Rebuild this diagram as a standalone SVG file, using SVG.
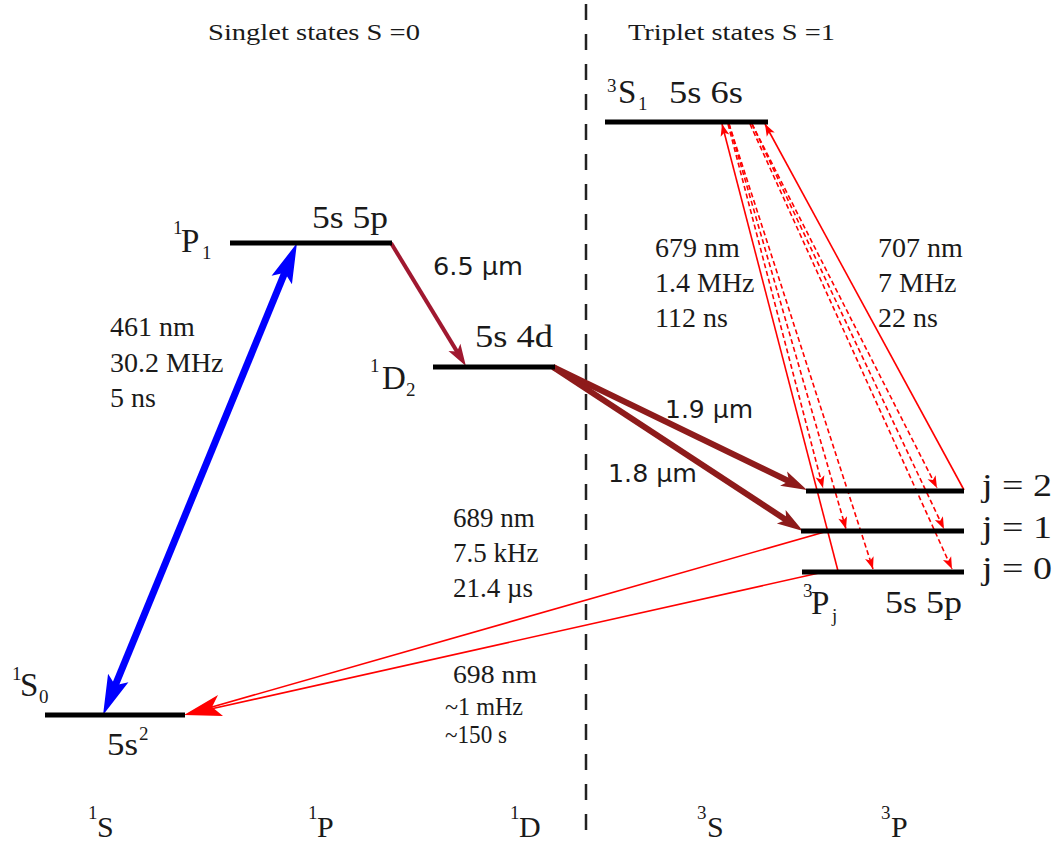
<svg xmlns="http://www.w3.org/2000/svg" width="1061" height="844" viewBox="0 0 1061 844">
<style>
.lvl{stroke:#000;stroke-width:5;fill:none}
.t{font-family:"Liberation Serif","Times New Roman",serif;fill:#1a1a1a}
.s{font-family:"DejaVu Sans",Verdana,sans-serif;fill:#1a1a1a}
.lab{font-size:32px}
.term{font-size:33px}
.sm{font-size:19px}
.tr{font-size:28px}
.red{stroke:#ff0000;stroke-width:1.6;fill:none}
.dash{stroke:#ff0000;stroke-width:1.6;fill:none;stroke-dasharray:5 3}
</style>
<defs>
<marker id="mb" markerUnits="userSpaceOnUse" viewBox="-50 -50 100 100" markerWidth="100" markerHeight="100" refX="0" refY="0" orient="auto-start-reverse" overflow="visible">
<path d="M22,0 L-18,-11 L-10,0 L-18,11 Z" fill="#0000ff"/>
</marker>
<marker id="mm" markerUnits="userSpaceOnUse" viewBox="-50 -50 100 100" markerWidth="100" markerHeight="100" refX="0" refY="0" orient="auto" overflow="visible">
<path d="M14,0 L-8,-7 L-3,0 L-8,7 Z" fill="#a01830"/>
</marker>
<marker id="md" markerUnits="userSpaceOnUse" viewBox="-50 -50 100 100" markerWidth="100" markerHeight="100" refX="0" refY="0" orient="auto" overflow="visible">
<path d="M16,0 L-10,-8 L-4,0 L-10,8 Z" fill="#8e1b1b"/>
</marker>
<marker id="mr" markerUnits="userSpaceOnUse" viewBox="-50 -50 100 100" markerWidth="100" markerHeight="100" refX="0" refY="0" orient="auto" overflow="visible">
<path d="M0,0 L-12,-4.5 L-9,0 L-12,4.5 Z" fill="#ff0000"/>
</marker>
</defs>
<rect width="1061" height="844" fill="#ffffff"/>

<g id="headers">
<text class="t" x="208" y="40" font-size="24" textLength="212" lengthAdjust="spacingAndGlyphs">Singlet states  S =0</text>
<text class="t" x="628" y="40" font-size="24" textLength="207" lengthAdjust="spacingAndGlyphs">Triplet states S =1</text>
<line x1="586" y1="4" x2="586" y2="844" stroke="#222" stroke-width="2.5" stroke-dasharray="16 14"/>
</g>

<g id="bottom-labels" class="t">
<text><tspan x="88" y="819" class="sm">1</tspan><tspan x="97" y="837" font-size="30">S</tspan></text>
<text><tspan x="308" y="819" class="sm">1</tspan><tspan x="317" y="837" font-size="30">P</tspan></text>
<text><tspan x="510" y="819" class="sm">1</tspan><tspan x="519" y="837" font-size="30">D</tspan></text>
<text><tspan x="697" y="819" class="sm">3</tspan><tspan x="707" y="837" font-size="30">S</tspan></text>
<text><tspan x="881" y="819" class="sm">3</tspan><tspan x="891" y="837" font-size="30">P</tspan></text>
</g>

<g id="connectors">
<line x1="111.4" y1="694.6" x2="288.6" y2="263.4" stroke="#0000ff" stroke-width="7" marker-start="url(#mb)" marker-end="url(#mb)"/>
<line x1="391" y1="243" x2="458.6" y2="354.1" stroke="#a01830" stroke-width="4" marker-end="url(#mm)"/>
<line x1="553" y1="367" x2="792.6" y2="483" stroke="#8e1b1b" stroke-width="6" marker-end="url(#md)"/>
<line x1="553" y1="367" x2="789.6" y2="522.2" stroke="#8e1b1b" stroke-width="6" marker-end="url(#md)"/>
<line class="red" x1="838" y1="571" x2="722" y2="124" marker-end="url(#mr)"/>
<line class="red" x1="964" y1="490" x2="765" y2="124" marker-end="url(#mr)"/>
<line class="dash" x1="728" y1="124" x2="823" y2="488" marker-end="url(#mr)"/>
<line class="dash" x1="729" y1="124" x2="846" y2="529" marker-end="url(#mr)"/>
<line class="dash" x1="729" y1="124" x2="873" y2="569" marker-end="url(#mr)"/>
<line class="dash" x1="752" y1="124" x2="937" y2="488" marker-end="url(#mr)"/>
<line class="dash" x1="752" y1="124" x2="944" y2="529" marker-end="url(#mr)"/>
<line class="dash" x1="750" y1="124" x2="952" y2="569" marker-end="url(#mr)"/>
<line class="red" x1="828" y1="531" x2="205" y2="709"/>
<line class="red" x1="828" y1="571" x2="205" y2="710.3"/>
<path d="M184,715 L218,695 L212,707 L223,716 Z" fill="#ff0000"/>
</g>

<g id="level-1S0">
<line class="lvl" x1="45" y1="715" x2="185" y2="715"/>
<text class="t"><tspan x="12" y="680" class="sm">1</tspan><tspan x="20" y="696" class="term">S</tspan><tspan x="39" y="703" class="sm">0</tspan></text>
<text class="t lab" x="107" y="755" textLength="31" lengthAdjust="spacingAndGlyphs">5s</text>
<text class="t sm" x="139" y="740">2</text>
</g>

<g id="level-1P1">
<line class="lvl" x1="230" y1="243" x2="392" y2="243"/>
<text class="t"><tspan x="173" y="234" class="sm">1</tspan><tspan x="181" y="252" class="term">P</tspan><tspan x="202" y="259" class="sm">1</tspan></text>
<text class="t lab" x="312" y="228" textLength="76" lengthAdjust="spacingAndGlyphs">5s 5p</text>
</g>

<g id="level-1D2">
<line class="lvl" x1="433" y1="367" x2="555" y2="367"/>
<text class="t"><tspan x="370" y="372" class="sm">1</tspan><tspan x="382" y="389" class="term">D</tspan><tspan x="406" y="396" class="sm">2</tspan></text>
<text class="t lab" x="475" y="347" textLength="78" lengthAdjust="spacingAndGlyphs">5s 4d</text>
</g>

<g id="level-3S1">
<line class="lvl" x1="605" y1="122" x2="768" y2="122"/>
<text class="t"><tspan x="607" y="92" class="sm">3</tspan><tspan x="618" y="103" class="term">S</tspan><tspan x="638" y="110" class="sm">1</tspan></text>
<text class="t lab" x="669" y="103" textLength="74" lengthAdjust="spacingAndGlyphs">5s 6s</text>
</g>

<g id="level-3Pj">
<line class="lvl" x1="806" y1="491" x2="964" y2="491"/>
<line class="lvl" x1="801" y1="531" x2="964" y2="531"/>
<line class="lvl" x1="802" y1="572" x2="964" y2="572"/>
<text class="t lab" x="982" y="496" textLength="70" lengthAdjust="spacingAndGlyphs">j = 2</text>
<text class="t lab" x="982" y="538" textLength="70" lengthAdjust="spacingAndGlyphs">j = 1</text>
<text class="t lab" x="982" y="579" textLength="70" lengthAdjust="spacingAndGlyphs">j = 0</text>
<text class="t"><tspan x="803" y="597" class="sm">3</tspan><tspan x="811" y="614" class="term">P</tspan><tspan x="832" y="622" class="sm">j</tspan></text>
<text class="t lab" x="885" y="613" textLength="77" lengthAdjust="spacingAndGlyphs">5s 5p</text>
</g>

<g id="labels-transitions">
<text class="t tr" x="110" y="336">461 nm</text>
<text class="t tr" x="110" y="372">30.2 MHz</text>
<text class="t tr" x="110" y="407">5 ns</text>
<text class="s" x="433" y="275" font-size="24" textLength="90" lengthAdjust="spacingAndGlyphs">6.5 µm</text>
<text class="s" x="665" y="418" font-size="24" textLength="88" lengthAdjust="spacingAndGlyphs">1.9 µm</text>
<text class="s" x="608" y="482" font-size="24" textLength="89" lengthAdjust="spacingAndGlyphs">1.8 µm</text>
<text class="t tr" x="655" y="257">679 nm</text>
<text class="t tr" x="655" y="292">1.4 MHz</text>
<text class="t tr" x="655" y="327">112 ns</text>
<text class="t tr" x="878" y="257">707 nm</text>
<text class="t tr" x="878" y="292">7 MHz</text>
<text class="t tr" x="878" y="327">22 ns</text>
<text class="t" x="453" y="527" font-size="27">689 nm</text>
<text class="t" x="453" y="562" font-size="27">7.5 kHz</text>
<text class="t" x="453" y="597" font-size="27">21.4 µs</text>
<text class="t" x="453" y="683" font-size="25" textLength="84" lengthAdjust="spacingAndGlyphs">698 nm</text>
<text class="t" x="445" y="715" font-size="25" textLength="78" lengthAdjust="spacingAndGlyphs">~1 mHz</text>
<text class="t" x="445" y="743" font-size="25" textLength="62" lengthAdjust="spacingAndGlyphs">~150 s</text>
</g>
</svg>
